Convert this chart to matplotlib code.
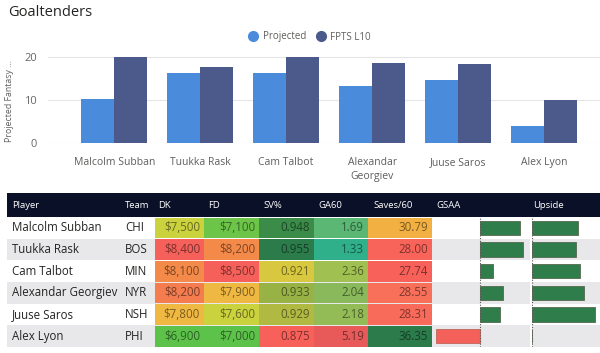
import matplotlib
matplotlib.use("Agg")
import matplotlib.pyplot as plt
import numpy as np
from matplotlib.colors import LinearSegmentedColormap, to_rgb
from matplotlib.lines import Line2D

plt.rcParams['font.family'] = ['Open Sans', 'DejaVu Sans']

# ---------------- data ----------------
players = ["Malcolm Subban", "Tuukka Rask", "Cam Talbot", "Alexandar Georgiev", "Juuse Saros", "Alex Lyon"]
chart_labels = ["Malcolm Subban", "Tuukka Rask", "Cam Talbot", "Alexandar\nGeorgiev", "Juuse Saros", "Alex Lyon"]
projected = [10.2, 16.2, 16.2, 13.3, 14.6, 4.1]
fpts_l10 = [19.9, 17.7, 19.9, 18.6, 18.3, 10.0]

teams = ["CHI", "BOS", "MIN", "NYR", "NSH", "PHI"]
dk = [7500, 8400, 8100, 8200, 7800, 6900]
fd = [7100, 8200, 8500, 7900, 7600, 7000]
sv_pct = [0.948, 0.955, 0.921, 0.933, 0.929, 0.875]
ga60 = [1.69, 1.33, 2.36, 2.04, 2.18, 5.19]
saves60 = [30.79, 28.00, 27.74, 28.55, 28.31, 36.35]
gsaa = [10.0, 10.8, 3.3, 5.8, 5.0, -11.0]
upside = [4.6, 4.4, 4.8, 5.2, 6.3, 0.0]

headers = ["Player", "Team", "DK", "FD", "SV%", "GA60", "Saves/60", "GSAA", "Upside"]

# ---------------- figure ----------------
W, H = 600, 353
fig = plt.figure(figsize=(W / 100, H / 100), dpi=100)

def fx(px):
    return px / W

def fy(py):
    return 1 - py / H

fig.text(fx(8), fy(13), "Goaltenders", fontsize=10.5, color="#252423", va="center", ha="left")

# ---------------- bar chart ----------------
c_proj = "#4a8bdb"
c_fpts = "#4b5a8b"
y0_px, y20_px = 143.3, 56.7
ppu = (y0_px - y20_px) / 20.0
ytop = 20.8
ax = fig.add_axes([fx(48), fy(y0_px), fx(600) - fx(48), (ytop * ppu) / H])
x = np.arange(len(players))
bw = 0.384
ax.bar(x - bw / 2, projected, bw, color=c_proj, zorder=3)
ax.bar(x + bw / 2, fpts_l10, bw, color=c_fpts, zorder=3)
ax.set_xlim(-0.77, 5.65)
ax.set_ylim(0, ytop)
ax.set_yticks([0, 10, 20])
ax.yaxis.grid(True, color="#e6e6e6", linewidth=0.8, zorder=0)
ax.set_axisbelow(True)
for s in ax.spines.values():
    s.set_visible(False)
ax.tick_params(axis="both", length=0, colors="#666666", labelsize=8)
ax.tick_params(axis="y", pad=8)
ax.set_xticks(x)
ax.set_xticklabels(chart_labels, fontsize=7.5, color="#605e5c", linespacing=1.3)
ax.tick_params(axis="x", pad=10)
ax.set_ylabel("Projected Fantasy ...", fontsize=6.3, color="#605e5c")
ax.yaxis.set_label_coords(-(48 - 10) / 552.0, (y0_px - 101) / (ytop * ppu))
ax.yaxis.label.set_va("center")

handles = [Line2D([], [], marker="o", linestyle="", markersize=7, color=c_proj),
           Line2D([], [], marker="o", linestyle="", markersize=7, color=c_fpts)]
fig.legend(handles, ["Projected", "FPTS L10"], loc="center", bbox_to_anchor=(fx(307), fy(37)),
           ncol=2, frameon=False, fontsize=7, handletextpad=0.0, columnspacing=0.5,
           labelcolor="#605e5c", borderaxespad=0)

# ---------------- table ----------------
tax = fig.add_axes([0, 0, 1, 1], zorder=1)
tax.set_xlim(0, W)
tax.set_ylim(H, 0)
tax.axis("off")
tax.patch.set_alpha(0)

col_edges = [7, 120, 155, 204, 259, 314, 368, 432, 531, 600]
hdr_top, hdr_bot = 193, 217
row_bot = 347
nrows = len(players)
rh = (row_bot - hdr_bot) / nrows

tax.add_patch(plt.Rectangle((col_edges[0], hdr_top), col_edges[-1] - col_edges[0], hdr_bot - hdr_top,
                            color="#0b1029", lw=0))
hdr_x = [12, 125, 158, 208, 263, 318, 373, 436, 533]
for hx, h in zip(hdr_x, headers):
    tax.text(hx, (hdr_top + hdr_bot) / 2, h, color="white", fontsize=6.8, va="center", ha="left")

# alternating row backgrounds
for i in range(nrows):
    top = hdr_bot + i * rh
    if i % 2 == 1:
        tax.add_patch(plt.Rectangle((col_edges[0], top), col_edges[-1] - col_edges[0], rh,
                                    color="#e8e8ea", lw=0, zorder=0))
    tax.text(12, top + rh / 2, players[i], fontsize=8.3, color="#252423", va="center", ha="left")
    tax.text(125, top + rh / 2, teams[i], fontsize=8.3, color="#252423", va="center", ha="left")

cm_bright = LinearSegmentedColormap.from_list(
    "bright", [(0, "#f5605a"), (0.2, "#f38a4a"), (0.4, "#efb842"), (0.6, "#cad23e"), (0.9, "#74c648"), (1, "#5cc24a")])
cm_dark = LinearSegmentedColormap.from_list(
    "dark", [(0, "#f8605a"), (0.1, "#f8705a"), (0.35, "#f2b043"), (0.575, "#d8c840"), (0.7, "#a6b744"),
             (0.9, "#3e8d49"), (1, "#2b7b4b")])
cm_ga = LinearSegmentedColormap.from_list(
    "ga", [(0, "#e85a5a"), (0.73, "#a2c052"), (0.82, "#88b95a"), (0.9, "#60b872"), (1, "#2fb08a")])

def norm(vals, higher_better):
    v = np.array(vals, dtype=float)
    n = (v - v.min()) / (v.max() - v.min())
    return n if higher_better else 1 - n

columns = [
    (dk, cm_bright, False, lambda v: "${:,}".format(v)),
    (fd, cm_bright, False, lambda v: "${:,}".format(v)),
    (sv_pct, cm_dark, True, lambda v: "{:.3f}".format(v)),
    (ga60, cm_ga, False, lambda v: "{:.2f}".format(v)),
    (saves60, cm_dark, True, lambda v: "{:.2f}".format(v)),
]
for ci, (vals, cmap, hb, fmt) in enumerate(columns):
    left = col_edges[2 + ci]
    right = col_edges[3 + ci]
    nv = norm(vals, hb)
    for i, v in enumerate(vals):
        top = hdr_bot + i * rh
        col = np.array(to_rgb(cmap(nv[i])))
        tax.add_patch(plt.Rectangle((left, top + 0.5), right - left, rh - 1, color=col, lw=0, zorder=1))
        tcol = col * 0.5
        tax.text(right - 4, top + rh / 2, fmt(v), fontsize=8.3, color=tcol, va="center", ha="right", zorder=2)

# GSAA bar column
g_left, g_zero, g_right = 432, 480, 529
gscale = 4.0
gax = fig.add_axes([fx(g_left), fy(row_bot), (g_right - g_left) / W, (row_bot - hdr_bot) / H], zorder=2)
gax.patch.set_alpha(0)
gax.set_xlim(-(g_zero - g_left) / gscale, (g_right - g_zero) / gscale)
gax.set_ylim(nrows - 0.5, -0.5)
gcols = ["#2e7d4b" if v >= 0 else "#f4605a" for v in gsaa]
gax.barh(np.arange(nrows), gsaa, height=0.66, color=gcols,
         edgecolor=["#55684f" if v >= 0 else "#c0665a" for v in gsaa], lw=0.6)
gax.axvline(0, color="#555555", lw=0.8, ls=(0, (1, 1.5)))
gax.axis("off")

# Upside bar column
u_left, u_right = 532, 600
uscale = 10.0
uax = fig.add_axes([fx(u_left), fy(row_bot), (u_right - u_left) / W, (row_bot - hdr_bot) / H], zorder=2)
uax.patch.set_alpha(0)
uax.set_xlim(0, (u_right - u_left) / uscale)
uax.set_ylim(nrows - 0.5, -0.5)
uax.barh(np.arange(nrows), upside, height=0.66, color="#2e7d4b", edgecolor="#55684f", lw=0.6)
uax.axvline(0, color="#555555", lw=0.8, ls=(0, (1, 1.5)))
uax.axis("off")

# white gap between GSAA and Upside columns
tax.add_patch(plt.Rectangle((529.5, hdr_bot), 2, row_bot - hdr_bot, color="white", lw=0, zorder=1))

fig.savefig("out.png", dpi=100)
